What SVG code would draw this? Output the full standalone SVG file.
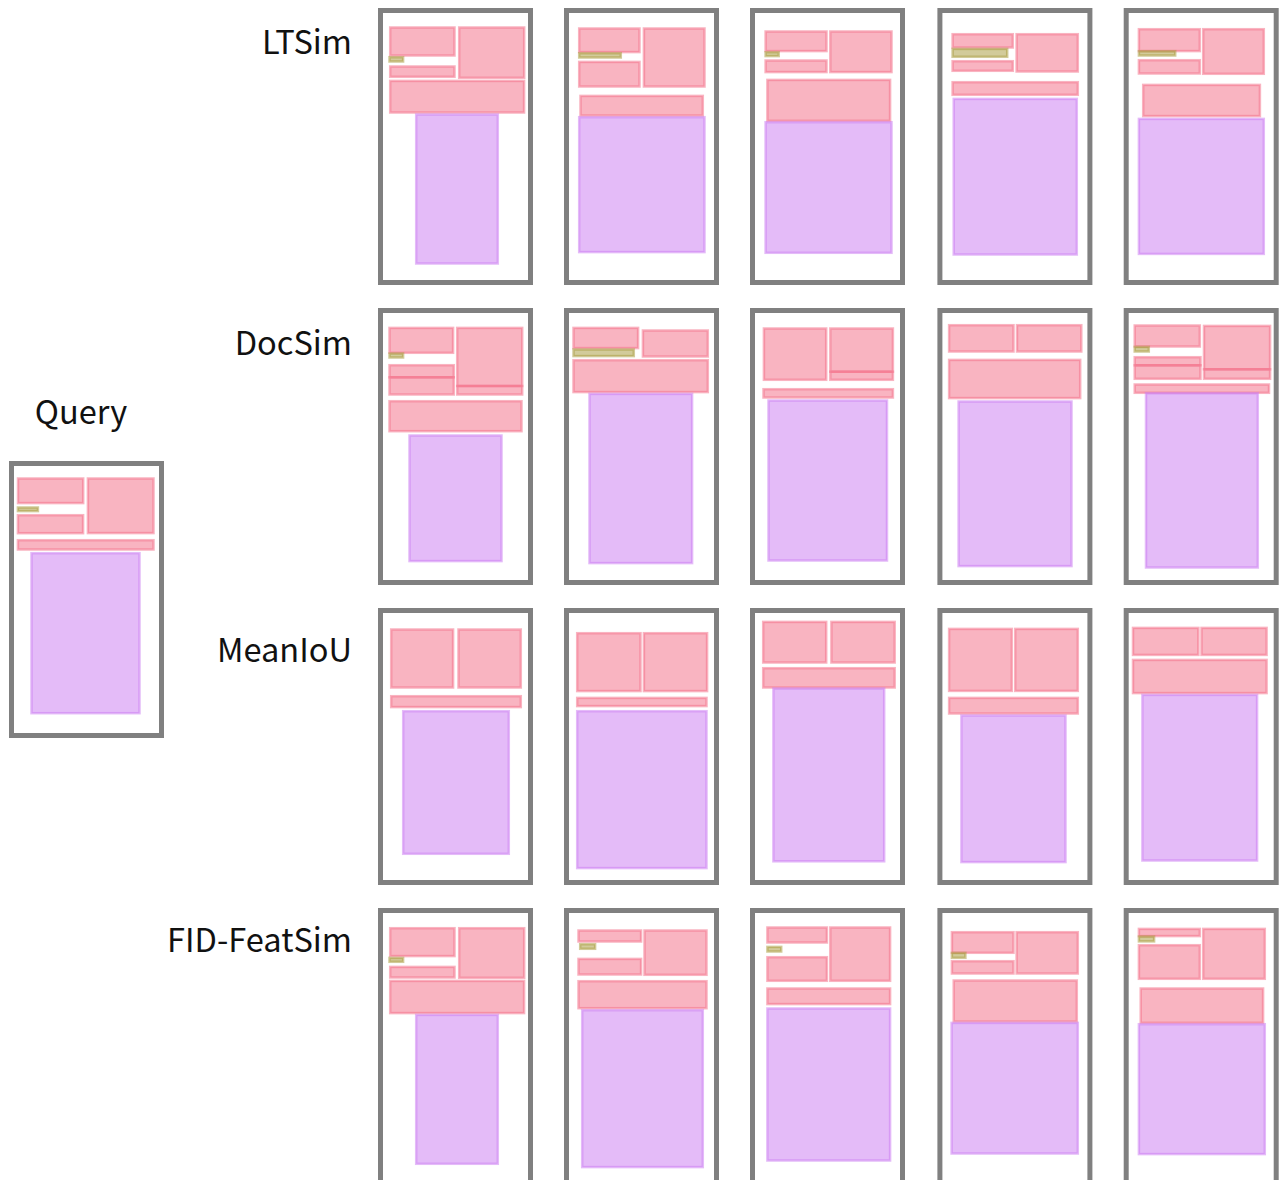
<svg xmlns="http://www.w3.org/2000/svg" width="1280" height="1180" viewBox="0 0 1280 1180">
<style>
.lbl{font-family:"Noto Sans CJK JP","Noto Sans",sans-serif;font-size:32.6px;fill:#111}
.fr{fill:#fff;stroke:#808080;stroke-width:5}
.p{fill:rgb(243,111,136);fill-opacity:.52;stroke:rgb(243,111,136);stroke-opacity:.52;stroke-width:2.5}
.v{fill:rgb(203,124,241);fill-opacity:.52;stroke:rgb(203,124,241);stroke-opacity:.52;stroke-width:2.5}
.o{fill:rgb(168,155,61);fill-opacity:.52;stroke:rgb(168,155,61);stroke-opacity:.52;stroke-width:2.5}
</style>
<rect width="1280" height="1180" fill="#fff"/>
<g id="labels">
<text class="lbl" x="81" y="424" text-anchor="middle">Query</text>
<text class="lbl" x="352" y="54" text-anchor="end">LTSim</text>
<text class="lbl" x="352" y="355" text-anchor="end">DocSim</text>
<text class="lbl" x="352" y="662" text-anchor="end">MeanIoU</text>
<text class="lbl" x="352" y="952" text-anchor="end">FID-FeatSim</text>
</g>
<g id="query" transform="translate(9,461)">
<rect class="fr" x="2.5" y="2.5" width="150" height="272"/>
<rect class="p" x="9" y="17.5" width="65.2" height="24.6"/>
<rect class="p" x="78.9" y="17.5" width="65.6" height="54.6"/>
<rect class="o" x="8.9" y="46.5" width="20" height="3.6"/>
<rect class="p" x="8.9" y="54.2" width="65.2" height="18"/>
<rect class="p" x="8.9" y="79.2" width="135.6" height="9.3"/>
<rect class="v" x="22.5" y="92.2" width="108" height="160"/>
</g>
<g id="ltsim-1" transform="translate(378,8)">
<rect class="fr" x="2.5" y="2.5" width="150" height="272"/>
<rect class="p" x="12.2" y="19.5" width="64.3" height="28"/>
<rect class="p" x="81.2" y="19.5" width="65" height="50.3"/>
<rect class="o" x="11.5" y="49.2" width="13.6" height="4.3"/>
<rect class="p" x="12.2" y="58.5" width="64.3" height="10.3"/>
<rect class="p" x="12.2" y="72.9" width="133.9" height="31.6"/>
<rect class="v" x="38.2" y="106.5" width="81.6" height="149"/>
</g>
<g id="ltsim-2" transform="translate(564,8)">
<rect class="fr" x="2.5" y="2.5" width="150" height="272"/>
<rect class="p" x="15.2" y="20.5" width="60.3" height="23.6"/>
<rect class="p" x="79.9" y="20.5" width="60.6" height="58"/>
<rect class="o" x="15.2" y="45.2" width="41.6" height="4.3"/>
<rect class="p" x="15.2" y="53.9" width="60.3" height="24.6"/>
<rect class="p" x="16.5" y="87.9" width="122.3" height="19.6"/>
<rect class="v" x="15.2" y="109.2" width="125.3" height="134.9"/>
</g>
<g id="ltsim-3" transform="translate(750,8)">
<rect class="fr" x="2.5" y="2.5" width="150" height="272"/>
<rect class="p" x="15.6" y="23.5" width="60.9" height="19.6"/>
<rect class="p" x="80.3" y="23.5" width="61.2" height="40.6"/>
<rect class="o" x="15.6" y="44.2" width="13.1" height="3.9"/>
<rect class="p" x="15.6" y="52.5" width="60.9" height="11.6"/>
<rect class="p" x="17.4" y="71.9" width="122.7" height="40.9"/>
<rect class="v" x="15.6" y="114.2" width="125.9" height="130.6"/>
</g>
<g id="ltsim-4" transform="translate(937.4,8)">
<rect class="fr" x="2.5" y="2.5" width="150" height="272"/>
<rect class="p" x="15.2" y="26.2" width="60.2" height="13.3"/>
<rect class="p" x="79.2" y="26.2" width="61.2" height="37.3"/>
<rect class="o" x="15.2" y="40.9" width="54.6" height="7.9"/>
<rect class="p" x="15.2" y="53.2" width="60.2" height="9.6"/>
<rect class="p" x="15.2" y="74.2" width="125.2" height="12.6"/>
<rect class="v" x="16.3" y="90.9" width="123.1" height="155.6"/>
</g>
<g id="ltsim-5" transform="translate(1123.7,8)">
<rect class="fr" x="2.5" y="2.5" width="150" height="272"/>
<rect class="p" x="15.2" y="21.2" width="60.9" height="21.9"/>
<rect class="p" x="79.5" y="21.2" width="60.6" height="44.6"/>
<rect class="o" x="15.2" y="43.2" width="36.3" height="4.3"/>
<rect class="p" x="15.2" y="52.2" width="60.9" height="13.3"/>
<rect class="p" x="19.5" y="76.9" width="116.7" height="31.2"/>
<rect class="v" x="15.2" y="110.9" width="124.9" height="135"/>
</g>
<g id="docsim-1" transform="translate(378,308)">
<rect class="fr" x="2.5" y="2.5" width="150" height="272"/>
<rect class="p" x="11.5" y="19.9" width="63.6" height="24.9"/>
<rect class="p" x="79.2" y="19.9" width="65" height="58.1"/>
<rect class="p" x="79.2" y="78" width="65" height="8.5"/>
<rect class="o" x="11.5" y="45.5" width="13.6" height="4"/>
<rect class="p" x="11.5" y="57.2" width="64.3" height="12.1"/>
<rect class="p" x="11.5" y="69.3" width="64.3" height="17.2"/>
<rect class="p" x="11.5" y="93.2" width="132" height="30"/>
<rect class="v" x="31.5" y="127.5" width="92" height="125.6"/>
</g>
<g id="docsim-2" transform="translate(564,308)">
<rect class="fr" x="2.5" y="2.5" width="150" height="272"/>
<rect class="p" x="9.5" y="19.9" width="64.6" height="20.2"/>
<rect class="o" x="9.5" y="41.5" width="60.3" height="6.6"/>
<rect class="p" x="78.9" y="22.5" width="64.9" height="26"/>
<rect class="p" x="9.5" y="52.2" width="134.3" height="31.9"/>
<rect class="v" x="25.5" y="85.9" width="102.6" height="169.2"/>
</g>
<g id="docsim-3" transform="translate(750,308)">
<rect class="fr" x="2.5" y="2.5" width="150" height="272"/>
<rect class="p" x="13.9" y="20.5" width="62.3" height="51.3"/>
<rect class="p" x="80.3" y="20.5" width="62.6" height="43.2"/>
<rect class="p" x="80.3" y="63.7" width="62.6" height="8.1"/>
<rect class="p" x="13.5" y="81.2" width="129.4" height="8.3"/>
<rect class="v" x="18.5" y="92.5" width="118.5" height="160"/>
</g>
<g id="docsim-4" transform="translate(937.4,308)">
<rect class="fr" x="2.5" y="2.5" width="150" height="272"/>
<rect class="p" x="11.7" y="17.2" width="64.4" height="26.3"/>
<rect class="p" x="79.6" y="17.2" width="64.3" height="26.3"/>
<rect class="p" x="11.7" y="51.9" width="131.1" height="38.2"/>
<rect class="v" x="21.2" y="93.5" width="112.9" height="164.6"/>
</g>
<g id="docsim-5" transform="translate(1123.7,308)">
<rect class="fr" x="2.5" y="2.5" width="150" height="272"/>
<rect class="p" x="11" y="17.5" width="65.1" height="21"/>
<rect class="o" x="11" y="38.9" width="14.1" height="4.6"/>
<rect class="p" x="11" y="49.2" width="65.8" height="8.1"/>
<rect class="p" x="11" y="57.3" width="65.8" height="13.5"/>
<rect class="p" x="80.3" y="17.9" width="66.1" height="43.4"/>
<rect class="p" x="80.3" y="61.3" width="66.1" height="9.5"/>
<rect class="p" x="11" y="76.5" width="134.3" height="8.3"/>
<rect class="v" x="22.3" y="85.2" width="111.8" height="174.3"/>
</g>
<g id="meaniou-1" transform="translate(378,608)">
<rect class="fr" x="2.5" y="2.5" width="150" height="272"/>
<rect class="p" x="13.2" y="21.5" width="61.9" height="58"/>
<rect class="p" x="80.5" y="21.5" width="62.3" height="58"/>
<rect class="p" x="13.2" y="88.2" width="129.6" height="10.9"/>
<rect class="v" x="25.2" y="103.2" width="105.6" height="142.6"/>
</g>
<g id="meaniou-2" transform="translate(564,608)">
<rect class="fr" x="2.5" y="2.5" width="150" height="272"/>
<rect class="p" x="13.2" y="25.2" width="63.3" height="57.9"/>
<rect class="p" x="79.9" y="25.2" width="63.2" height="57.9"/>
<rect class="p" x="13.2" y="89.9" width="129.3" height="8.2"/>
<rect class="v" x="13.2" y="103.2" width="129.3" height="156.9"/>
</g>
<g id="meaniou-3" transform="translate(750,608)">
<rect class="fr" x="2.5" y="2.5" width="150" height="272"/>
<rect class="p" x="13.2" y="13.9" width="63" height="40.6"/>
<rect class="p" x="81.4" y="13.9" width="63.3" height="40.6"/>
<rect class="p" x="13.2" y="60.2" width="131.5" height="19.3"/>
<rect class="v" x="23.4" y="80.5" width="110.8" height="172.8"/>
</g>
<g id="meaniou-4" transform="translate(937.4,608)">
<rect class="fr" x="2.5" y="2.5" width="150" height="272"/>
<rect class="p" x="11.7" y="20.9" width="62.7" height="62"/>
<rect class="p" x="77.8" y="20.9" width="62.6" height="62"/>
<rect class="p" x="11.7" y="89.9" width="128.7" height="15.6"/>
<rect class="v" x="24" y="107.5" width="104.1" height="146.6"/>
</g>
<g id="meaniou-5" transform="translate(1123.7,608)">
<rect class="fr" x="2.5" y="2.5" width="150" height="272"/>
<rect class="p" x="9.3" y="19.9" width="65.4" height="27"/>
<rect class="p" x="77.8" y="19.9" width="65.1" height="27"/>
<rect class="p" x="9.3" y="51.9" width="133.6" height="33.2"/>
<rect class="v" x="18.7" y="86.9" width="114.7" height="165.6"/>
</g>
<g id="fid-1" transform="translate(378,908)">
<rect class="fr" x="2.5" y="2.5" width="150" height="282"/>
<rect class="p" x="12.2" y="20.2" width="64.3" height="27.9"/>
<rect class="p" x="81.2" y="20.2" width="65" height="49.6"/>
<rect class="o" x="11.5" y="49.9" width="13.6" height="3.9"/>
<rect class="p" x="12.2" y="58.9" width="64.3" height="10.6"/>
<rect class="p" x="12.2" y="72.9" width="133.9" height="32.2"/>
<rect class="v" x="38.2" y="106.9" width="81.6" height="148.9"/>
</g>
<g id="fid-2" transform="translate(564,908)">
<rect class="fr" x="2.5" y="2.5" width="150" height="282"/>
<rect class="p" x="14.5" y="22.5" width="62.6" height="11"/>
<rect class="o" x="16.2" y="36.2" width="14.9" height="4.6"/>
<rect class="p" x="80.5" y="22.5" width="62" height="44.3"/>
<rect class="p" x="14.5" y="50.9" width="62.6" height="15.6"/>
<rect class="p" x="14.5" y="73.2" width="128" height="27"/>
<rect class="v" x="18.2" y="102.2" width="120.6" height="156.9"/>
</g>
<g id="fid-3" transform="translate(750,908)">
<rect class="fr" x="2.5" y="2.5" width="150" height="282"/>
<rect class="p" x="17.4" y="19.5" width="59.5" height="15"/>
<rect class="o" x="17.4" y="38.9" width="13.8" height="4.6"/>
<rect class="p" x="17.4" y="49.2" width="59.5" height="23.6"/>
<rect class="p" x="80.3" y="19.5" width="59.8" height="53.3"/>
<rect class="p" x="17.4" y="80.5" width="122.7" height="15.6"/>
<rect class="v" x="17.4" y="100.5" width="122.7" height="152"/>
</g>
<g id="fid-4" transform="translate(937.4,908)">
<rect class="fr" x="2.5" y="2.5" width="150" height="282"/>
<rect class="p" x="14.5" y="24.2" width="61.6" height="20.6"/>
<rect class="o" x="14.5" y="44.9" width="13.5" height="4.9"/>
<rect class="p" x="14.5" y="53.2" width="61.6" height="12.3"/>
<rect class="p" x="79.2" y="24.2" width="61.2" height="41.3"/>
<rect class="p" x="16.3" y="72.5" width="123.1" height="41"/>
<rect class="v" x="14.2" y="114.9" width="126.2" height="130.6"/>
</g>
<g id="fid-5" transform="translate(1123.7,908)">
<rect class="fr" x="2.5" y="2.5" width="150" height="282"/>
<rect class="p" x="15.2" y="20.9" width="60.9" height="7.2"/>
<rect class="o" x="15.2" y="28.5" width="15.2" height="4.9"/>
<rect class="p" x="15.2" y="37.2" width="60.9" height="33.6"/>
<rect class="p" x="79.5" y="20.9" width="61.6" height="49.9"/>
<rect class="p" x="17" y="80.5" width="122.4" height="34.3"/>
<rect class="v" x="15.2" y="116.2" width="125.9" height="129.9"/>
</g>
</svg>
